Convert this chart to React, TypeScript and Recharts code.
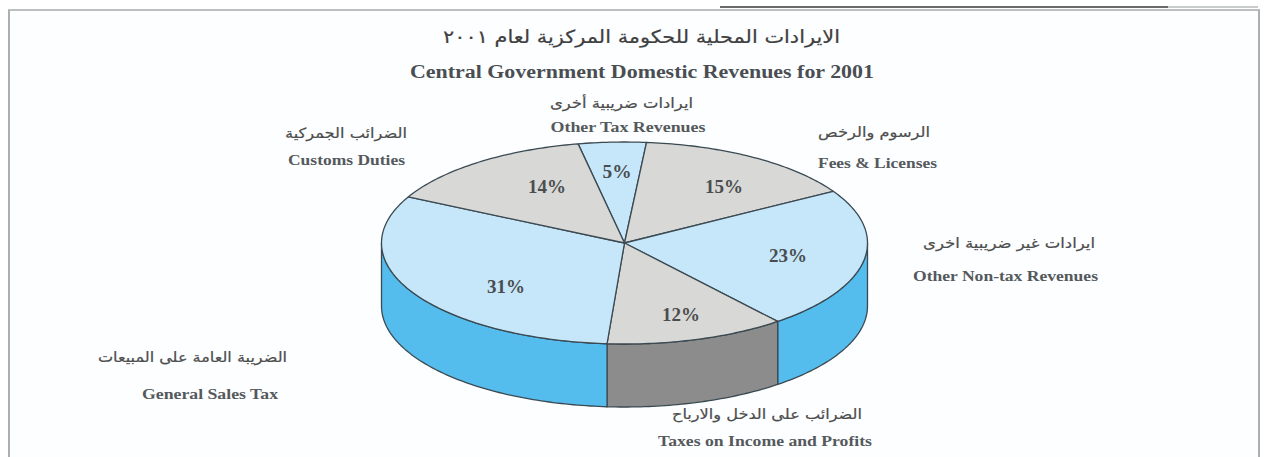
import React from "react";
import { PieChart, Pie, Cell } from "recharts";

const WIDTH = 1265;
const HEIGHT = 457;

// Slices, clockwise from the top
const categoriesEn = ["Other Tax Revenues", "Fees & Licenses", "Other Non-tax Revenues", "Taxes on Income and Profits", "General Sales Tax", "Customs Duties"];
const categoriesAr = ["ايرادات ضريبية أخرى", "الرسوم والرخص", "ايرادات غير ضريبية اخرى", "الضرائب على الدخل والارباح", "الضريبة العامة على المبيعات", "الضرائب الجمركية"];
const shares = [4.5, 15, 22.7, 12, 31.4, 14.4];
const topColors = ["#c6e7fa", "#d8d8d6", "#c6e7fa", "#d8d8d6", "#c6e7fa", "#d8d8d6"];
const sideColors = ["#55bcee", "#8c8c8c", "#55bcee", "#8c8c8c", "#55bcee", "#8c8c8c"];

// Layout of the printed labels
const pctOffsets = [[-7.5, -65], [99.5, -50], [163.5, 19], [56.5, 78], [-118.5, 50], [-77.5, -50]];
// [arabic centre x, arabic baseline, arabic width, english centre x, english baseline, english width]
const catLayout = [
  [621.5, 108, 143, 628, 132, 155],
  [874, 137, 112, 877.5, 168, 119],
  [1009, 248, 172, 1005.5, 281, 185],
  [767, 419, 190, 765, 446, 214],
  [192.5, 362, 189, 210, 399, 136],
  [346, 138, 122, 346.5, 165, 117],
];

const CX = 624.5;
const CY = 243;
const RX = 243;
const RY = 101;
const DEPTH = 63;
const SQUASH = RY / RX;
const STROKE = "#3b4a52";

const pt = (cx: number, cy: number, r: number, deg: number) => {
  const a = (deg * Math.PI) / 180;
  return [cx + r * Math.cos(a), cy - r * SQUASH * Math.sin(a)];
};

function arc(cx: number, cy: number, r: number, a0: number, a1: number) {
  const n = Math.max(2, Math.ceil(Math.abs(a1 - a0)));
  const out: number[][] = [];
  for (let i = 0; i <= n; i++) out.push(pt(cx, cy, r, a0 + ((a1 - a0) * i) / n));
  return out;
}

function Slab(props: any) {
  const { cx, cy, outerRadius, startAngle, endAngle, index } = props;
  const hi = Math.max(startAngle, endAngle);
  const lo = Math.min(startAngle, endAngle);
  const top = arc(cx, cy, outerRadius, hi, lo);
  const d = `M${cx},${cy} ` + top.map((p) => `L${p[0]},${p[1]}`).join(" ") + " Z";

  const walls: React.ReactNode[] = [];
  for (const shift of [0, 360, -360]) {
    const from = Math.max(lo + shift, 180);
    const to = Math.min(hi + shift, 360);
    if (to > from) {
      const rim = arc(cx, cy, outerRadius, from, to);
      const low = [...rim].reverse().map((p) => [p[0], p[1] + DEPTH]);
      const w = [...rim, ...low].map((p, i) => `${i ? "L" : "M"}${p[0]},${p[1]}`).join(" ") + " Z";
      walls.push(<path key={shift} d={w} fill={sideColors[index]} stroke={STROKE} strokeWidth={1.3} strokeLinejoin="round" />);
    }
  }
  return (
    <g>
      {walls}
      <path d={d} fill={topColors[index]} stroke={STROKE} strokeWidth={1.3} strokeLinejoin="round" />
    </g>
  );
}

function SliceLabel(props: any) {
  const { cx, cy, index } = props;
  const [dx, dy] = pctOffsets[index];
  const [xA, yA, wA, xE, yE, wE] = catLayout[index];
  const pct = `${Math.round(shares[index])}%`;
  return (
    <g textAnchor="middle">
      <text x={cx + dx} y={cy + dy} textLength={pct.length > 2 ? 38 : 29} lengthAdjust="spacingAndGlyphs" fontFamily="'Liberation Serif', serif" fontWeight={700} fontSize={18} fill="#4a4d50">
        {pct}
      </text>
      <text x={xA} y={yA} direction="rtl" textLength={wA} lengthAdjust="spacingAndGlyphs" fontFamily="'DejaVu Sans', sans-serif" fontSize={14} fill="#4d4d4d" stroke="#4d4d4d" strokeWidth={0.2}>
        {categoriesAr[index]}
      </text>
      <text x={xE} y={yE} textLength={wE} lengthAdjust="spacingAndGlyphs" fontFamily="'Liberation Serif', serif" fontWeight={700} fontSize={15} fill="#55595c">
        {categoriesEn[index]}
      </text>
    </g>
  );
}

export default function App() {
  const data = categoriesEn.map((name, i) => ({ name, value: shares[i] }));
  return (
    <div style={{ position: "absolute", left: 0, top: 0, width: WIDTH, height: HEIGHT, background: "#ffffff", overflow: "hidden" }}>
      <div style={{ position: "absolute", left: 8, top: 9, width: 1248, height: 449, background: "#fcfeff", borderTop: "2px solid #bcbfbf", borderLeft: "2px solid #adafaf", borderRight: "2px solid #adafaf" }} />
      <div style={{ position: "absolute", left: 720, top: 6, width: 448, height: 2, background: "#6a6a6a" }} />
      <div style={{ position: "absolute", left: 1168, top: 6, width: 90, height: 2, background: "#c8cccc" }} />
      <div style={{ position: "absolute", left: 0, top: 0 }}>
        <PieChart width={WIDTH} height={HEIGHT} margin={{ top: 0, right: 0, bottom: 0, left: 0 }}>
          <text x={641.5} y={43} textAnchor="middle" direction="rtl" textLength={397} lengthAdjust="spacingAndGlyphs" fontFamily="'DejaVu Sans', sans-serif" fontSize={18} fill="#404040" stroke="#404040" strokeWidth={0.2}>
            الايرادات المحلية للحكومة المركزية لعام ٢٠٠١
          </text>
          <text x={642} y={78} textAnchor="middle" textLength={464} lengthAdjust="spacingAndGlyphs" fontFamily="'Liberation Serif', serif" fontWeight={700} fontSize={18} fill="#4a4e52">
            Central Government Domestic Revenues for 2001
          </text>
          <Pie
            data={data}
            dataKey="value"
            nameKey="name"
            cx={CX}
            cy={CY}
            innerRadius={0}
            outerRadius={RX}
            startAngle={101}
            endAngle={-259}
            paddingAngle={0}
            stroke={STROKE}
            shape={Slab}
            label={SliceLabel}
            labelLine={false}
            isAnimationActive={false}
          >
            {data.map((d, i) => (
              <Cell key={d.name} fill={topColors[i]} />
            ))}
          </Pie>
        </PieChart>
      </div>
    </div>
  );
}
